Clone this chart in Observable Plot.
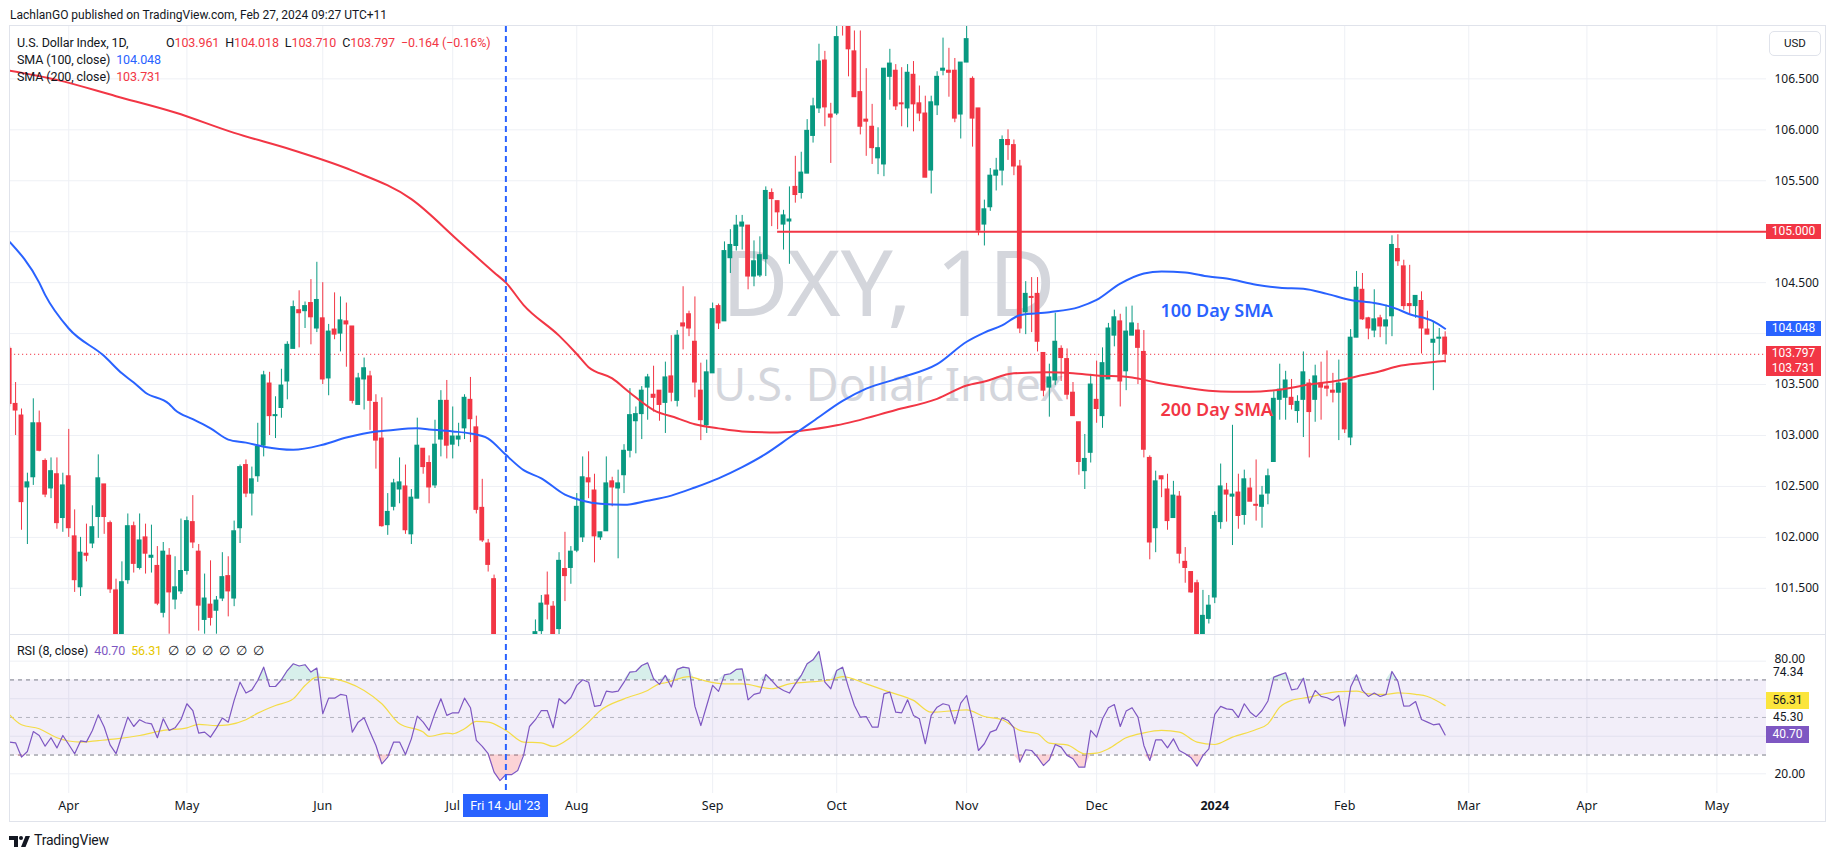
<!DOCTYPE html>
<html>
<head>
<meta charset="utf-8">
<script src="https://cdn.jsdelivr.net/npm/d3@7"></script>
<script src="https://cdn.jsdelivr.net/npm/@observablehq/plot@0.6"></script>
<style>
  html, body { margin: 0; padding: 0; background: #fff; }
  body { width: 1835px; height: 857px; overflow: hidden; position: relative;
         font-family: Roboto, "Noto Sans", sans-serif; color: #131722; }
  .box { position: absolute; text-align: center; font-size: 12px; height: 15px; line-height: 15px; white-space: nowrap; }
  .lg { position: absolute; font-size: 12.5px; line-height: 17px; white-space: nowrap; letter-spacing: -0.1px; }
  .lg span.g { margin-left: 6px; }
</style>
</head>
<body>
<script>
// ---------------- DATA ----------------
// bar index 0 = Mon 20 Mar 2023, one bar per trading day, last bar 243 = Mon 26 Feb 2024
const candleOpen = [
103.85,103.31,103.196,102.49,102.59,103.12,102.75,102.48,102.62,102.19,
102.60,102.01,101.51,101.84,101.94,102.20,102.52,102.14,101.48,101.00,
101.58,102.11,101.70,102.00,101.80,101.72,101.26,101.82,101.39,101.47,
101.67,102.15,101.86,101.19,101.34,101.28,101.40,101.62,101.40,102.09,
102.71,102.43,102.60,102.90,103.51,103.19,103.27,103.53,103.85,104.23,
104.22,104.30,104.05,104.15,103.56,104.04,104.00,104.12,104.07,103.30,
103.55,103.58,103.32,102.97,102.12,102.30,102.47,102.50,102.03,102.38,
102.87,102.73,102.51,102.96,103.34,102.91,102.96,103.07,103.35,103.08,
102.29,101.94,101.59,100.52,99.77,99.95,99.90,99.86,100.26,100.80,
101.08,101.43,101.32,101.10,101.69,101.70,101.87,102.00,102.58,102.46,
102.00,102.06,102.55,102.48,102.61,102.85,103.14,103.21,103.47,103.40,
103.44,103.32,103.58,103.34,104.10,104.19,103.92,103.44,103.10,103.61,
104.27,104.12,104.74,104.86,105.05,105.06,104.56,104.57,104.73,105.38,
105.30,105.07,105.10,105.44,105.38,105.57,105.94,106.21,106.68,106.15,
106.16,107.15,107.05,106.77,106.37,106.10,106.03,105.72,105.66,106.52,
106.58,106.26,106.21,106.54,106.26,106.16,105.60,106.24,106.58,106.58,
106.58,106.15,106.66,106.50,106.21,105.07,105.24,105.55,105.60,105.90,
105.85,105.64,104.21,104.36,104.39,103.81,103.47,103.54,103.85,103.75,
103.42,103.13,102.65,102.83,103.35,103.19,103.55,103.98,104.12,103.63,
103.98,104.03,103.82,102.78,102.09,102.60,102.47,102.19,102.40,101.76,
101.66,101.55,100.97,101.20,101.41,102.15,102.46,102.40,102.44,102.22,
102.48,102.32,102.30,102.43,102.74,103.35,103.37,103.37,103.24,103.35,
103.51,103.35,103.51,103.48,103.44,103.42,103.51,102.98,103.96,104.43,
104.15,104.03,104.15,104.07,104.17,104.83,104.66,104.29,104.27,104.32,
104.04,103.91,103.95,103.961];
const candleHigh = [
103.87,103.52,103.26,102.63,103.36,103.24,102.77,102.78,102.78,102.63,
103.06,102.27,102.00,102.13,102.31,102.81,102.52,102.16,101.59,101.76,
102.23,102.15,102.23,102.13,102.12,101.91,101.95,101.89,101.81,102.18,
102.20,102.41,101.93,101.64,101.77,101.42,101.85,101.81,102.16,102.71,
102.76,102.69,103.12,103.63,103.62,103.38,103.65,103.92,104.32,104.42,
104.31,104.53,104.70,104.50,104.09,104.40,104.36,104.30,104.07,103.61,
103.76,103.63,103.40,103.37,102.43,102.57,102.78,102.71,102.47,103.17,
102.87,102.80,103.15,103.44,103.54,103.28,103.12,103.40,103.57,103.19,
102.57,101.98,101.63,100.60,100.00,100.05,100.00,100.35,100.90,101.19,
101.43,101.66,101.37,101.85,102.05,101.91,102.43,102.79,102.84,102.62,
102.05,102.79,102.59,102.66,102.91,103.46,103.28,103.48,103.60,103.68,
103.44,103.72,103.98,104.03,104.46,104.22,104.36,103.71,103.74,104.30,
104.29,104.90,105.02,105.16,105.16,105.06,104.91,104.95,105.44,105.42,
105.30,105.21,105.44,105.74,105.78,106.10,106.31,106.84,106.77,106.26,
107.03,107.35,107.10,106.97,106.97,106.60,106.25,106.02,106.60,106.79,
106.64,106.61,106.64,106.67,106.43,106.33,106.33,106.57,106.90,106.80,
106.70,106.66,107.11,106.52,106.21,105.31,105.62,105.72,105.94,106.00,
105.90,105.70,104.51,104.55,104.55,103.81,103.70,104.20,103.88,103.85,
103.52,103.13,103.01,103.60,103.73,103.86,104.10,104.23,104.19,104.26,
104.27,104.10,104.03,102.80,102.65,102.60,102.62,102.55,102.45,101.90,
101.66,101.58,101.48,101.43,102.25,102.72,102.53,103.10,102.62,102.66,
102.58,102.76,102.50,102.67,103.43,103.70,103.63,103.55,103.39,103.82,
103.55,103.69,103.72,103.83,103.61,103.74,103.51,104.04,104.61,104.59,
104.16,104.43,104.18,104.28,104.96,104.97,104.72,104.67,104.37,104.41,
104.22,104.12,104.05,104.018];
const candleLow = [
103.28,103.00,102.07,101.93,102.51,102.84,102.39,102.38,102.08,102.05,
102.00,101.46,101.42,101.76,101.89,101.99,102.03,101.45,100.88,100.78,
101.54,101.65,101.68,101.64,101.65,101.33,101.21,101.05,101.29,101.44,
101.63,101.89,101.08,101.05,101.13,101.05,101.37,101.22,101.32,101.94,
102.39,102.21,102.54,102.79,103.00,102.97,103.17,103.35,103.85,103.86,
104.05,103.89,104.01,103.50,103.39,103.94,103.82,103.67,103.31,103.30,
103.25,103.05,102.67,102.10,102.02,102.26,102.33,102.03,101.93,102.38,
102.62,102.33,102.48,102.79,102.77,102.77,102.89,102.96,102.93,102.23,
101.95,101.66,100.45,99.74,99.57,99.69,99.55,99.75,100.10,100.70,
100.95,101.19,100.75,100.90,101.37,101.54,101.85,101.95,102.38,101.75,
101.97,102.06,102.30,101.79,102.43,102.78,102.82,102.96,103.15,103.23,
103.14,103.02,103.33,103.28,103.84,103.97,103.37,102.95,103.02,103.61,
104.04,104.12,104.59,104.81,104.82,104.43,104.46,104.55,104.56,105.05,
105.02,104.82,104.68,105.28,105.32,105.57,105.87,106.16,106.03,105.67,
106.14,106.92,106.52,106.32,105.95,105.74,105.66,105.56,105.54,106.29,
106.19,106.03,106.02,105.98,106.08,105.53,105.37,106.14,106.53,106.32,
106.07,105.91,106.66,105.83,104.96,104.86,105.20,105.40,105.45,105.70,
105.55,104.00,103.99,104.01,103.82,103.38,103.18,103.49,103.53,103.35,
103.19,102.61,102.47,102.73,103.12,103.07,103.55,103.87,103.28,103.44,
103.98,103.50,102.78,101.78,101.85,102.39,102.07,102.19,101.74,101.55,
101.45,100.82,100.62,101.15,101.35,102.08,102.15,101.92,102.08,102.12,
102.35,102.16,102.09,102.32,102.74,103.15,103.15,103.25,103.12,102.98,
102.78,103.13,103.15,103.38,103.32,102.95,103.02,102.90,103.96,104.13,
103.94,103.96,103.96,103.89,103.97,104.66,104.23,104.19,104.15,103.80,
103.99,103.44,103.79,103.710];
const candleClose = [
103.31,103.245,102.346,102.54,103.12,102.85,102.42,102.65,102.14,102.51,
102.09,101.58,101.85,101.82,102.10,102.58,102.20,101.49,101.00,101.56,
102.11,101.74,101.97,101.84,101.82,101.35,101.86,101.46,101.51,101.67,
102.16,101.95,101.33,101.40,101.21,101.38,101.61,101.47,102.06,102.69,
102.43,102.57,102.89,103.59,103.19,103.20,103.49,103.89,104.26,104.20,
104.27,104.16,104.33,103.55,104.02,103.99,104.13,104.09,103.34,103.56,
103.66,103.34,102.95,102.11,102.25,102.53,102.54,102.07,102.39,102.90,
102.69,102.49,102.91,103.34,102.90,102.99,102.99,103.37,103.16,102.27,
101.97,101.73,100.52,99.77,99.93,99.90,99.86,100.26,100.80,101.07,
101.35,101.34,100.89,101.77,101.62,101.86,102.30,102.59,102.54,102.01,
102.05,102.53,102.49,102.53,102.85,103.20,103.21,103.44,103.57,103.37,
103.30,103.57,103.42,103.98,104.07,104.05,103.52,103.15,103.62,104.24,
104.10,104.81,104.87,105.06,105.09,104.56,104.71,104.77,105.40,105.32,
105.19,105.16,105.12,105.36,105.58,105.99,106.23,106.67,106.22,106.12,
106.91,107.05,106.79,106.32,106.03,106.08,105.82,105.82,106.60,106.65,
106.23,106.25,106.56,106.25,106.16,105.53,106.27,106.52,106.60,106.56,
106.11,106.66,106.89,106.11,105.01,105.22,105.55,105.60,105.90,105.85,
105.64,104.05,104.39,104.35,103.92,103.44,103.57,103.92,103.76,103.40,
103.19,102.74,102.77,103.50,103.26,103.71,104.05,104.16,103.53,104.02,
104.10,103.86,102.86,101.95,102.55,102.57,102.16,102.41,101.84,101.70,
101.46,100.99,101.23,101.33,102.21,102.50,102.42,102.42,102.21,102.57,
102.35,102.31,102.41,102.60,103.36,103.45,103.54,103.30,103.33,103.62,
103.23,103.58,103.47,103.46,103.42,103.51,103.06,103.96,104.45,104.14,
104.05,104.14,104.07,104.13,104.87,104.71,104.27,104.27,104.37,104.05,
103.99,103.94,103.96,103.797];

// moving averages read at intervals: [bar, value]
const sma100 = [[0,104.90],[5,104.50],[6,104.38],[10,104.05],[16,103.78],[19,103.61],[21,103.52],[23,103.42],
 [27,103.31],[28,103.25],[31,103.16],[34,103.07],[37,102.96],[40,102.93],[43,102.89],[48,102.86],[53,102.91],
 [57,102.98],[62,103.04],[64,103.05],[69,103.07],[71,103.06],[75,103.04],[78,103.02],[81,102.97],[84,102.81],
 [87,102.66],[90,102.58],[94,102.42],[97,102.36],[100,102.33],[104,102.32],[108,102.36],[112,102.41],[116,102.49],
 [120,102.58],[124,102.69],[128,102.82],[132,102.98],[136,103.14],[141,103.34],[145,103.46],[151,103.57],
 [157,103.70],[162,103.92],[165,104.01],[168,104.08],[171,104.18],[176,104.21],[181,104.26],[184,104.33],
 [188,104.49],[192,104.59],[195,104.61],[199,104.60],[203,104.56],[206,104.54],[211,104.48],[215,104.45],
 [219,104.44],[223,104.39],[227,104.33],[231,104.30],[234,104.26],[237,104.19],[241,104.12],[243,104.048]];
const sma200 = [[0,106.58],[8,106.49],[18,106.33],[28,106.17],[38,105.97],[48,105.80],[58,105.60],[68,105.32],
 [76,104.91],[82,104.60],[84,104.50],[87,104.28],[93,103.98],[96,103.80],[98,103.67],[102,103.56],[105,103.42],
 [109,103.25],[113,103.17],[116,103.11],[120,103.07],[124,103.04],[130,103.03],[140,103.10],[150,103.25],
 [157,103.36],[162,103.49],[165,103.53],[170,103.61],[176,103.62],[180,103.61],[184,103.59],[190,103.57],
 [194,103.52],[198,103.48],[203,103.44],[207,103.43],[210,103.43],[215,103.45],[220,103.50],[225,103.54],
 [228,103.58],[232,103.63],[235,103.68],[239,103.71],[243,103.731]];

const rsi8 = [
36.9,36.5,28.9,31.9,42.5,40.4,34.7,39.2,33.8,40.4,
35.6,30.7,37.5,37.0,43.1,51.4,44.9,35.4,30.7,40.4,
50.2,45.2,48.8,47.2,46.6,39.2,49.3,43.1,44.5,48.8,
57.3,53.7,41.7,42.2,39.5,44.3,49.7,47.5,59.1,68.8,
63.0,64.7,69.7,76.8,66.5,66.5,70.1,75.0,78.6,77.4,
78.1,74.2,76.3,52.0,60.3,60.3,62.3,61.7,42.2,47.5,
49.8,42.2,35.1,25.3,28.9,36.9,36.9,30.3,38.6,50.7,
47.5,43.1,52.3,60.0,51.1,52.5,52.5,60.3,55.2,37.8,
34.6,30.7,20.9,16.4,19.6,19.6,21.8,29.8,45.2,48.8,
53.7,53.7,44.5,60.0,57.3,60.5,67.1,70.1,68.8,55.9,
56.4,64.0,63.5,64.0,68.8,74.2,74.5,77.7,79.1,70.6,
67.6,72.4,66.2,75.6,76.8,76.3,55.9,45.7,56.4,67.1,
63.9,72.7,73.3,75.6,75.9,59.4,62.3,63.1,72.9,69.7,
66.2,64.4,63.0,67.9,72.4,78.6,80.7,85.2,68.8,65.3,
75.0,76.8,66.0,56.4,50.2,50.5,44.9,44.9,62.6,63.5,
52.8,52.5,59.4,51.1,49.3,36.0,51.1,55.5,57.3,56.5,
46.6,57.6,61.7,48.4,32.4,36.0,42.2,43.4,49.8,48.4,
44.5,26.2,32.8,32.4,28.9,24.4,27.5,35.6,34.2,29.8,
28.0,23.5,23.5,43.1,39.5,49.3,55.2,56.9,45.2,53.4,
55.2,50.2,35.1,27.1,38.1,38.1,33.8,38.6,32.4,30.7,
28.5,24.1,29.8,33.3,51.6,55.9,54.6,54.2,50.0,57.3,
52.8,50.3,53.7,58.8,71.5,72.7,73.8,64.7,65.3,70.9,
57.6,64.4,61.2,60.5,59.1,61.7,45.4,66.2,72.7,64.4,
61.2,63.0,61.2,62.3,74.5,69.2,56.0,56.2,58.5,48.9,
47.5,46.1,46.6,40.7];
const rsiMA = [[0,51.4],[2,46.1],[5,44.0],[8,39.2],[12,36.9],[15,37.7],[18,38.6],[22,40.4],[26,43.1],[30,44.5],
 [32,46.3],[35,45.7],[37,46.1],[40,48.8],[42,52.3],[45,56.4],[48,59.9],[50,67.0],[52,71.5],[55,70.6],[57,68.8],
 [60,64.4],[63,57.3],[66,46.6],[70,42.2],[71,39.9],[74,41.7],[75,41.3],[77,44.0],[79,47.9],[81,47.5],[84,43.1],
 [87,36.9],[90,36.5],[92,34.6],[95,39.5],[98,47.5],[100,53.7],[104,59.9],[108,64.4],[110,67.9],[111,68.5],
 [115,71.8],[117,70.1],[121,67.9],[124,67.9],[129,65.3],[132,67.9],[135,68.8],[139,70.1],[141,71.8],[145,67.9],
 [149,63.5],[153,59.1],[156,52.8],[160,53.7],[162,54.1],[165,50.5],[168,48.8],[171,43.1],[174,41.3],[176,36.3],
 [179,35.4],[182,30.6],[184,31.0],[186,33.3],[189,39.2],[192,41.8],[195,43.1],[198,42.2],[201,36.9],[204,35.6],
 [207,39.5],[211,43.6],[213,46.6],[215,55.5],[217,59.1],[220,60.8],[222,62.3],[225,63.8],[228,64.0],[230,62.6],
 [233,62.3],[235,63.1],[238,62.3],[240,61.2],[243,56.31]];
const rsiLevels = [74.34, 45.30];           // extra values shown on the RSI scale

// time axis: [first trading-day bar of month, label, isYear]
const monthTicks = [[10,"Apr"],[30,"May"],[53,"Jun"],[75,"Jul"],[96,"Aug"],[119,"Sep"],[140,"Oct"],
 [162,"Nov"],[184,"Dec"],[204,"2024",true],[226,"Feb"],[247,"Mar"],[267,"Apr"],[289,"May"]];
const priceTicks = [101.5,102,102.5,103,103.5,104,104.5,105,105.5,106,106.5];
const keyLevel = 105.000, keyLevelStartBar = 130;
const crosshairBar = 84, crosshairLabel = "Fri 14 Jul '23";
const smaNotes = [{label: "100 Day SMA", bar: 194.8, price: 104.22, color: "#2962ff"},
                  {label: "200 Day SMA", bar: 194.8, price: 103.25, color: "#f23645"}];
const titleText = "LachlanGO published on TradingView.com, Feb 27, 2024 09:27 UTC+11";
const symbolText = "U.S. Dollar Index, 1D,";
const changeText = "\u22120.164 (\u22120.16%)";
const watermark = ["DXY, 1D", "U.S. Dollar Index"];

// ---------------- STYLE / LAYOUT ----------------
const FONT = "Roboto, 'Noto Sans', sans-serif";
const GREEN = "#089981", RED = "#f23645", BLUE = "#2962ff", PURPLE = "#7e57c2", YELLOW = "#f4dc47";
const GRID = "#eef0f5", TEXT = "#131722", BORDER = "#e0e3eb";
const W = 1826, ML = 10, MR = 60;
const MAIN_TOP = 26, MAIN_H = 608, RSI_TOP = 634, RSI_H = 188, RSI_MB = 29;
const xDomain = [0.14, 297.4];
const BOX_H = 15;

const bars = candleClose.map((c, i) => ({i, o: candleOpen[i], h: candleHigh[i], l: candleLow[i], c}));
const colorOf = d => d.c >= d.o ? GREEN : RED;
const rsiPts = rsi8.map((v, i) => ({i, v}));
const last = bars[bars.length - 1];
const sma100Last = sma100[sma100.length - 1][1], sma200Last = sma200[sma200.length - 1][1];
const rsiLast = rsi8[rsi8.length - 1], rsiMALast = rsiMA[rsiMA.length - 1][1];

function el(tag, css, html, cls) {
  const e = document.createElement(tag);
  if (cls) e.className = cls;
  e.style.cssText = css; if (html != null) e.innerHTML = html;
  document.body.appendChild(e); return e;
}

// price-scale boxes first (needed to hide the tick labels they cover)
const yScaleMain = d3.scaleLinear().domain([101.047, 107.014]).range([MAIN_H, 0]);
const priceBoxes = [
  {v: keyLevel, bg: RED}, {v: sma100Last, bg: BLUE}, {v: last.c, bg: RED}, {v: sma200Last, bg: RED}
].map(b => ({...b, c: MAIN_TOP + yScaleMain(b.v)})).sort((a, b) => a.c - b.c);
for (let k = 1; k < priceBoxes.length; k++)
  if (priceBoxes[k].c < priceBoxes[k - 1].c + BOX_H) priceBoxes[k].c = priceBoxes[k - 1].c + BOX_H;
const visibleTicks = priceTicks.filter(t => priceBoxes.every(b => Math.abs(MAIN_TOP + yScaleMain(t) - b.c) > 12));

// ---------------- MAIN PANE ----------------
const main = Plot.plot({
  width: W, height: MAIN_H, marginLeft: ML, marginRight: MR, marginTop: 0, marginBottom: 0,
  style: {fontFamily: FONT, fontSize: "12px", color: TEXT, background: "transparent", overflow: "visible"},
  x: {domain: xDomain, axis: null},
  y: {domain: [101.047, 107.014], axis: null, label: null},
  marks: [
    Plot.ruleY(priceTicks, {stroke: GRID}),
    Plot.ruleX(monthTicks, {x: d => d[0], stroke: GRID}),
    Plot.text([watermark[0]], {text: d => d, frameAnchor: "middle", fontSize: 92, fill: "#d4d6dc", dy: -44}),
    Plot.text([watermark[1]], {text: d => d, frameAnchor: "middle", fontSize: 45, fill: "#d4d6dc", dy: 56}),
    Plot.ruleY([last.c], {stroke: RED, strokeDasharray: "1.2,2.8"}),
    Plot.ruleX(bars, {x: "i", y1: "l", y2: "h", stroke: colorOf, clip: true}),
    Plot.rect(bars, {x1: d => d.i - 0.41, x2: d => d.i + 0.41,
      y1: d => Math.min(d.o, d.c), y2: d => Math.max(d.o, d.c),
      fill: colorOf, insetTop: -0.5, insetBottom: -0.5, clip: true}),
    Plot.line(sma200, {x: d => d[0], y: d => d[1], stroke: RED, strokeWidth: 2, curve: "monotone-x", clip: true}),
    Plot.line(sma100, {x: d => d[0], y: d => d[1], stroke: BLUE, strokeWidth: 2, curve: "monotone-x", clip: true}),
    Plot.ruleY([keyLevel], {x1: keyLevelStartBar, x2: xDomain[1], stroke: RED, strokeWidth: 2}),
    Plot.ruleX([crosshairBar], {stroke: BLUE, strokeWidth: 2, strokeDasharray: "6,4"}),
    Plot.text(smaNotes, {x: "bar", y: "price", text: "label", fill: "color", textAnchor: "start",
      fontSize: 18, fontWeight: 600}),
    Plot.axisY(visibleTicks, {anchor: "right", tickSize: 0, tickPadding: 8, tickFormat: d3.format(".3f"), fontSize: 12, label: null})
  ]
});
main.style.cssText = `position:absolute;left:0;top:${MAIN_TOP}px;`;
document.body.appendChild(main);

// ---------------- RSI PANE ----------------
const rsiPlot = Plot.plot({
  width: W, height: RSI_H, marginLeft: ML, marginRight: MR, marginTop: 0, marginBottom: RSI_MB,
  style: {fontFamily: FONT, fontSize: "12px", color: TEXT, background: "transparent", overflow: "visible"},
  x: {domain: xDomain, axis: null},
  y: {domain: [9.5, 94.2], axis: null, label: null},
  marks: [
    Plot.ruleY([20, 40, 60, 80], {stroke: GRID}),
    Plot.ruleX(monthTicks, {x: d => d[0], stroke: GRID}),
    Plot.rect([0], {y1: 30, y2: 70, fill: PURPLE, fillOpacity: 0.1}),
    Plot.ruleY([70, 30], {stroke: "#787b86", strokeDasharray: "4,4"}),
    Plot.ruleY([50], {stroke: "#787b86", strokeOpacity: 0.5, strokeDasharray: "4,4"}),
    Plot.areaY(rsiPts, {x: "i", y1: 70, y2: d => Math.max(70, d.v), fill: GREEN, fillOpacity: 0.16}),
    Plot.areaY(rsiPts, {x: "i", y1: 30, y2: d => Math.min(30, d.v), fill: RED, fillOpacity: 0.22}),
    Plot.line(rsiMA, {x: d => d[0], y: d => d[1], stroke: YELLOW, strokeWidth: 1.2, curve: "monotone-x"}),
    Plot.line(rsiPts, {x: "i", y: "v", stroke: PURPLE, strokeWidth: 1.2}),
    Plot.ruleX([crosshairBar], {stroke: BLUE, strokeWidth: 2, strokeDasharray: "6,4"}),
    Plot.axisY([80], {anchor: "right", tickSize: 0, tickPadding: 8, tickFormat: d3.format(".2f"), fontSize: 12, dy: -2, label: null}),
    Plot.axisY([20], {anchor: "right", tickSize: 0, tickPadding: 8, tickFormat: d3.format(".2f"), fontSize: 12, label: null}),
    Plot.text(monthTicks.filter(d => !d[2]), {x: d => d[0], text: d => d[1], frameAnchor: "bottom", dy: 16, fontSize: 12.5, fill: TEXT}),
    Plot.text(monthTicks.filter(d => d[2]), {x: d => d[0], text: d => d[1], frameAnchor: "bottom", dy: 16, fontSize: 12.5, fontWeight: "bold", fill: TEXT})
  ]
});
rsiPlot.style.cssText = `position:absolute;left:0;top:${RSI_TOP}px;`;
document.body.appendChild(rsiPlot);

// ---------------- FRAME, HEADER, LEGENDS ----------------
el("div", `position:absolute;left:9px;top:25px;width:1817px;height:797px;border:1.5px solid ${BORDER};box-sizing:border-box;`);
el("div", `position:absolute;left:10px;top:${RSI_TOP}px;width:1816px;height:1px;background:${BORDER};`);
el("div", "position:absolute;left:10px;top:6px;font-size:12px;line-height:18px;white-space:nowrap;", titleText);

const f3 = d3.format(".3f");
const red = s => `<span style="color:${RED}">${s}</span>`;
el("div", "left:17px;top:34px;", symbolText, "lg");
el("div", "left:166px;top:34px;",
  [["O", last.o], ["H", last.h], ["L", last.l], ["C", last.c]]
    .map(([k, v], j) => `<span${j ? ' class="g"' : ""}>${k}${red(f3(v))}</span>`).join("") +
  `<span class="g">${red(changeText)}</span>`, "lg");
el("div", "left:17px;top:51px;", `SMA (100, close)<span class="g" style="color:${BLUE}">${f3(sma100Last)}</span>`, "lg");
el("div", "left:17px;top:68px;", `SMA (200, close)<span class="g" style="color:${RED}">${f3(sma200Last)}</span>`, "lg");
el("div", "left:17px;top:642px;",
  `RSI (8, close)<span class="g" style="color:${PURPLE}">${rsiLast.toFixed(2)}</span>` +
  `<span class="g" style="color:#e6c700">${rsiMALast.toFixed(2)}</span>` +
  Array(6).fill(`<span class="g">\u2205</span>`).join(""), "lg");

// USD button
el("div", `position:absolute;left:1769px;top:31px;width:52px;height:25px;border:1px solid ${BORDER};border-radius:5px;box-sizing:border-box;font-size:11.5px;line-height:23px;text-align:center;`, "USD");

// price-scale value boxes
priceBoxes.forEach(b => el("div", `left:1766px;width:55px;top:${b.c - BOX_H / 2}px;background:${b.bg};color:#fff;`, f3(b.v), "box"));

// RSI scale value labels (stacked upward from the latest RSI value)
const yr = v => RSI_TOP + rsiPlot.scale("y").apply(v);
el("div", `position:absolute;left:1766px;width:50px;top:${yr(rsiLevels[0]) - 5}px;height:12px;line-height:12px;background:#fff;font-size:12px;padding-left:7px;box-sizing:border-box;white-space:nowrap;`, rsiLevels[0].toFixed(2));
const rsiBoxes = [
  {v: rsiLast, bg: PURPLE, fg: "#fff"}, {v: rsiLevels[1], bg: "transparent", fg: TEXT},
  {v: rsiMALast, bg: "#fbe53d", fg: TEXT}
].map(b => ({...b, c: yr(b.v)})).sort((a, b) => b.c - a.c);
for (let k = 1; k < rsiBoxes.length; k++)
  if (rsiBoxes[k].c > rsiBoxes[k - 1].c - 17) rsiBoxes[k].c = rsiBoxes[k - 1].c - 17;
rsiBoxes.forEach(b => {
  const plain = b.bg === "transparent";
  el("div", `left:1766px;width:${plain ? 50 : 43}px;top:${b.c - 8.5}px;height:17px;line-height:17px;background:${b.bg};color:${b.fg};` +
    (plain ? "text-align:left;padding-left:7px;box-sizing:border-box;" : ""), b.v.toFixed(2), "box");
});

// crosshair time label
const xc = rsiPlot.scale("x").apply(crosshairBar);
el("div", `position:absolute;left:${xc - 42.5}px;top:794px;width:85px;height:23px;background:${BLUE};color:#fff;font-size:12.5px;line-height:23px;text-align:center;white-space:nowrap;`, crosshairLabel);

// TradingView footer logo
el("div", "position:absolute;left:9px;top:833px;width:22px;height:14px;",
  `<svg width="22" height="14" viewBox="0 0 22 14"><path d="M0 2h9v11H5V6H0z" fill="#131722"/><circle cx="12" cy="4" r="2" fill="#131722"/><path d="M16.5 2H21l-4.5 11H12z" fill="#131722"/></svg>`);
el("div", "position:absolute;left:34px;top:831px;font-size:14px;line-height:18px;letter-spacing:-0.2px;white-space:nowrap;", "TradingView");
</script>
</body>
</html>
